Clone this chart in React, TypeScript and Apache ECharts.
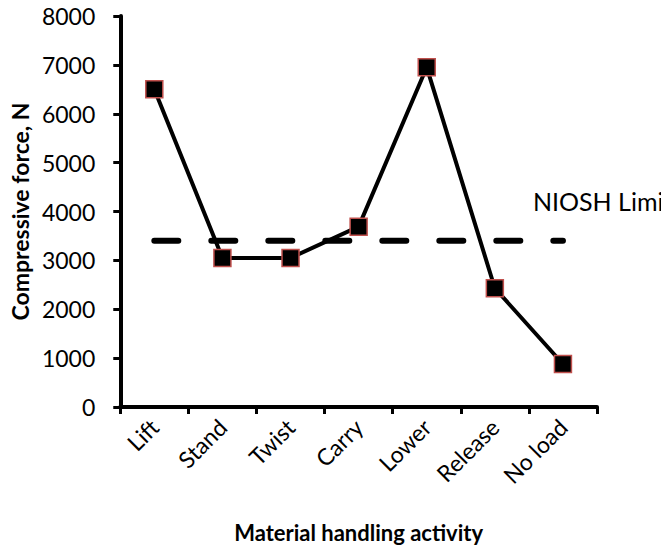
import React, { useEffect, useRef } from "react";
import * as echarts from "echarts";

const categories = ["Lift", "Stand", "Twist", "Carry", "Lower", "Release", "No load"];
const forceValues = [6500, 3050, 3050, 3690, 6950, 2430, 880];
const nioshLimit = [3400, 3400, 3400, 3400, 3400, 3400, 3400];
const nioshLabel = "NIOSH Limit";
const yTicks = { min: 0, max: 8000, interval: 1000 };

const FONT = "Lato";

export default function App() {
  const ref = useRef<HTMLDivElement>(null);
  useEffect(() => {
    if (!ref.current) return;
    const chart = echarts.init(ref.current, undefined, { renderer: "svg" });
    chart.setOption({
      animation: false,
      backgroundColor: "#ffffff",
      grid: { left: 120, right: 64, top: 16, bottom: 143 },
      xAxis: {
        type: "category",
        data: categories,
        boundaryGap: true,
        name: "Material handling activity",
        nameLocation: "middle",
        nameGap: 114,
        nameTextStyle: { fontFamily: FONT, fontSize: 22, fontWeight: "bold", color: "#000" },
        axisLine: { lineStyle: { color: "#000", width: 4 } },
        axisTick: { show: true, inside: false, length: 7, lineStyle: { color: "#000", width: 3 } },
        axisLabel: { rotate: 45, margin: 16, fontFamily: FONT, fontSize: 23, color: "#000", interval: 0 },
        splitLine: { show: false },
      },
      yAxis: {
        type: "value",
        min: yTicks.min,
        max: yTicks.max,
        interval: yTicks.interval,
        name: "Compressive force, N",
        nameLocation: "middle",
        nameGap: 89,
        nameTextStyle: { fontFamily: FONT, fontSize: 23, fontWeight: "bold", color: "#000" },
        axisLine: { show: true, lineStyle: { color: "#000", width: 4 } },
        axisTick: { show: true, inside: false, length: 7, lineStyle: { color: "#000", width: 3 } },
        axisLabel: {
          margin: 25,
          fontFamily: FONT,
          fontSize: 23,
          color: "#000",
          formatter: (v: number) => String(v),
        },
        splitLine: { show: false },
      },
      series: [
        {
          type: "line",
          data: forceValues,
          symbol: "rect",
          symbolSize: 17,
          z: 3,
          lineStyle: { color: "#000", width: 4 },
          itemStyle: { color: "#000", borderColor: "#c0504d", borderWidth: 1.5 },
        },
        {
          type: "line",
          data: nioshLimit,
          symbol: "none",
          showSymbol: false,
          z: 2,
          lineStyle: { color: "#000", width: 6, type: [24, 33], cap: "round" },
          endLabel: {
            show: true,
            formatter: nioshLabel,
            distance: 5,
            offset: [-35, -40],
            fontFamily: FONT,
            fontSize: 25,
            color: "#000",
          },
        },
      ],
    });
    return () => chart.dispose();
  }, []);
  return (
    <div
      ref={ref}
      style={{ position: "absolute", left: 0, top: 0, width: 661, height: 550, overflow: "hidden" }}
    />
  );
}
